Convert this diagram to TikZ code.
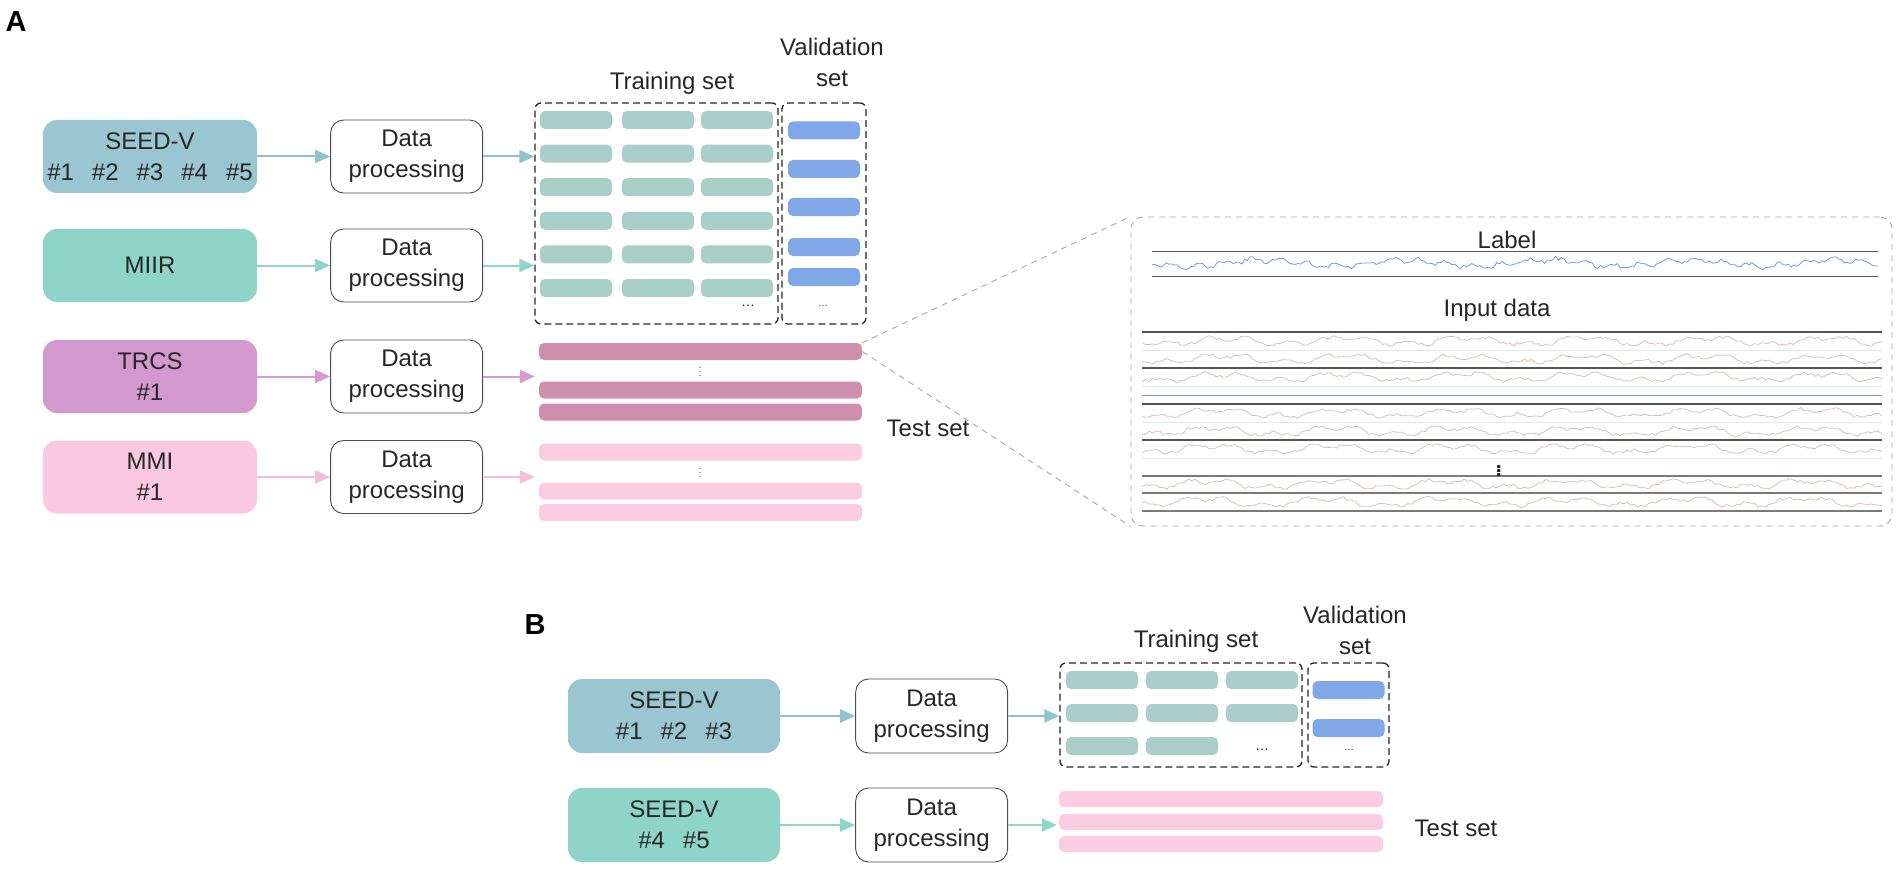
\documentclass[tikz,border=0pt]{standalone}
\usepackage{fontspec}
\setmainfont{Liberation Sans}
\usetikzlibrary{positioning,arrows.meta}

\definecolor{seedfill}{HTML}{9AC6D1}
\definecolor{miirfill}{HTML}{8ED5C8}
\definecolor{trcsfill}{HTML}{D399CF}
\definecolor{mmifill}{HTML}{FAC9E1}
\definecolor{trainfill}{HTML}{A9CFC8}
\definecolor{valfill}{HTML}{80A7E8}
\definecolor{trcsbarfill}{HTML}{CD8FAC}
\definecolor{mmibarfill}{HTML}{FBCDE3}
\definecolor{seedline}{HTML}{8FC4CF}
\definecolor{miirline}{HTML}{8FD6C8}
\definecolor{trcsline}{HTML}{D59CD1}
\definecolor{mmiline}{HTML}{F7BCD8}
\definecolor{labelblue}{HTML}{6F9BD9}
\definecolor{eegred}{HTML}{DDB5B2}
\definecolor{lightrule}{HTML}{E3E6EC}
\definecolor{darkrule}{HTML}{555555}
\definecolor{midrule}{HTML}{7A7A7A}
\definecolor{zoomgrey}{HTML}{A8A8A8}

% one pale channel of the input data
\newcommand{\eegtrace}[2]{%
  \pgfmathsetseed{#2}%
  \draw[eeg] plot[domain=0:740, samples=210]
    ({1142+\x}, {#1 + 3.2*sin(3*\x+#2) + 2.2*sin(9*\x+3*#2) + 1.6*rand});}

\begin{document}
\begin{tikzpicture}[
      x=1pt, y=-1pt,
      every node/.style = {align=center, text=black!85, font=\fontsize{24}{31}\selectfont},
      source/.style     = {rounded corners=14pt, minimum width=214pt, minimum height=73pt, inner sep=0pt},
      procbox/.style    = {draw=black!70, line width=0.9pt, fill=white, rounded corners=13pt,
                           minimum width=152pt, minimum height=73pt, inner sep=0pt},
      setbox/.style     = {draw=black!85, line width=1.3pt, dash pattern=on 7pt off 4pt,
                           rounded corners=6pt, inner sep=0pt},
      databar/.style    = {rounded corners=5pt, minimum height=18pt, inner sep=0pt},
      trainbar/.style   = {databar, fill=trainfill, minimum width=72pt},
      valbar/.style     = {databar, fill=valfill, minimum width=72pt},
      testbar/.style    = {databar, minimum height=17pt, minimum width=323pt},
      flow/.style       = {line width=2pt, -{Triangle[length=15pt, width=13pt]}},
      zoomline/.style   = {draw=zoomgrey, line width=0.9pt, dash pattern=on 6pt off 5pt},
      eeg/.style        = {draw=eegred, line width=0.7pt},
      panel/.style      = {font=\fontsize{29}{29}\selectfont\bfseries, text=black},
      dotsmark/.style   = {font=\fontsize{14}{14}\selectfont, inner sep=0pt}
    ]
    \useasboundingbox (0,0) rectangle (1902,869);

    % ---------------- panel A ----------------
    \node (panelA) [panel] at (16,22) {A};

    \node (seedA) [source, fill=seedfill] at (150,156.5) {SEED-V\\\#1\hspace{0.75em}\#2\hspace{0.75em}\#3\hspace{0.75em}\#4\hspace{0.75em}\#5};
    \node (miirA) [source, fill=miirfill] at (150,265.5) {MIIR};
    \node (trcsA) [source, fill=trcsfill] at (150,376.5) {TRCS\\\#1};
    \node (mmiA)  [source, fill=mmifill]  at (150,477)   {MMI\\\#1};

    \node (dpA1) [procbox, right=73pt of seedA] {Data\\processing};
    \node (dpA2) [procbox, right=73pt of miirA] {Data\\processing};
    \node (dpA3) [procbox, right=73pt of trcsA] {Data\\processing};
    \node (dpA4) [procbox, right=73pt of mmiA]  {Data\\processing};

    \node (trainA) [setbox, minimum width=243pt, minimum height=221pt] at (656.5,213.5) {};
    \node (valA)   [setbox, minimum width=84pt,  minimum height=221pt] at (824,213.5)   {};
    \node (trainAlabel) at (672,83) {Training set};
    \node (valAlabel)   at (832,62) {Validation\\set};

    \foreach \r in {0,...,5}
      \foreach \cx [count=\c] in {576,658,737}
        \node (trA-\c-\r) [trainbar] at (\cx,{120+33.6*\r}) {};
    \foreach \vy [count=\r] in {130.5,169,207,247,277}
      \node (vaA-\r) [valbar] at (824,\vy) {};
    \node (trAdots) [dotsmark] at (748,306) {\ldots};
    \node (vaAdots) [dotsmark, font=\fontsize{10}{10}\selectfont] at (823,306) {\ldots};

    \node (trcsA1) [testbar, fill=trcsbarfill] at (700.5,351.5) {};
    \node (trcsA2) [testbar, fill=trcsbarfill] at (700.5,390)   {};
    \node (trcsA3) [testbar, fill=trcsbarfill] at (700.5,412)   {};
    \node (trcsAdots) [dotsmark, font=\fontsize{9}{9}\selectfont] at (700,369) {$\vdots$};
    \node (mmiA1) [testbar, fill=mmibarfill] at (700.5,452)   {};
    \node (mmiA2) [testbar, fill=mmibarfill] at (700.5,491)   {};
    \node (mmiA3) [testbar, fill=mmibarfill] at (700.5,512.5) {};
    \node (mmiAdots) [dotsmark, font=\fontsize{9}{9}\selectfont] at (700,470) {$\vdots$};
    \node (testAlabel) at (928,428) {Test set};

    \draw[flow, seedline] (seedA) to (dpA1);
    \draw[flow, miirline] (miirA) to (dpA2);
    \draw[flow, trcsline] (trcsA) to (dpA3);
    \draw[flow, mmiline]  (mmiA)  to (dpA4);
    \draw[flow, seedline] (dpA1) to (dpA1 -| trainA.west);
    \draw[flow, miirline] (dpA2) to (dpA2 -| trainA.west);
    \draw[flow, trcsline, shorten >=4pt] (dpA3) to (dpA3 -| trcsA1.west);
    \draw[flow, mmiline,  shorten >=4pt] (dpA4) to (dpA4 -| mmiA1.west);

    % zoomed view of one test sample
    \node (zoombox) [draw=zoomgrey, line width=0.9pt, dash pattern=on 6pt off 5pt, rounded corners=12pt,
                     minimum width=761pt, minimum height=309pt, inner sep=0pt] at (1511.5,371.5) {};
    \draw[zoomline] (trcsA1.north east) to (zoombox.north west);
    \draw[zoomline] (trcsA1.east)       to (zoombox.south west);

    \node (labeltext) at (1507,240) {Label};
    \draw[darkrule, line width=1pt] (1152,251) -- (1878,251);
    \draw[darkrule, line width=1pt] (1152,276) -- (1878,276);
    \pgfmathsetseed{7}
    \draw[labelblue, line width=0.8pt] plot[domain=0:726, samples=260]
      ({1152+\x}, {263 + 3.2*sin(2.5*\x) + 2*sin(13*\x+40) + 1.8*rand});

    \node (inputtext) at (1497,310) {Input data};
    \foreach \ly in {350,386,422,458}
      \draw[lightrule, line width=0.9pt] (1142,\ly) -- (1882,\ly);
    \foreach \dy in {332,368,404,440}
      \draw[darkrule, line width=1.1pt] (1142,\dy) -- (1882,\dy);
    \foreach \dy in {476,493,511}
      \draw[midrule, line width=1.3pt] (1142,\dy) -- (1882,\dy);
    \draw[labelblue, line width=1pt] (1142,395) -- (1882,395);
    \foreach \sy [count=\s] in {341,359,377,413,431,449,484,502}
      \eegtrace{\sy}{\s3}
    \node (inputdots) [dotsmark, font=\fontsize{17}{17}\selectfont\bfseries] at (1499,468) {$\vdots$};

    % ---------------- panel B ----------------
    \node (panelB) [panel] at (535,625) {B};

    \node (seedB)  [source, fill=seedfill, minimum width=212pt, minimum height=74pt] at (674,716)
                   {SEED-V\\\#1\hspace{0.75em}\#2\hspace{0.75em}\#3};
    \node (seedB2) [source, fill=miirfill, minimum width=212pt, minimum height=74pt] at (674,825)
                   {SEED-V\\\#4\hspace{0.75em}\#5};
    \node (dpB1) [procbox, minimum height=74pt, right=75pt of seedB]  {Data\\processing};
    \node (dpB2) [procbox, minimum height=74pt, right=75pt of seedB2] {Data\\processing};

    \node (trainB) [setbox, minimum width=242pt, minimum height=104pt] at (1181,715)   {};
    \node (valB)   [setbox, minimum width=81pt,  minimum height=104pt] at (1348.5,715) {};
    \node (trainBlabel) at (1196,641) {Training set};
    \node (valBlabel)   at (1355,630) {Validation\\set};

    \foreach \r in {0,1}
      \foreach \cx [count=\c] in {1102,1182,1262}
        \node (trB-\c-\r) [trainbar] at (\cx,{680+33*\r}) {};
    \node (trB-1-2) [trainbar] at (1102,746) {};
    \node (trB-2-2) [trainbar] at (1182,746) {};
    \node (trBdots) [dotsmark] at (1262,750) {\ldots};
    \node (vaB-1) [valbar] at (1348.5,690) {};
    \node (vaB-2) [valbar] at (1348.5,728) {};
    \node (vaBdots) [dotsmark, font=\fontsize{10}{10}\selectfont] at (1349,750) {\ldots};

    \node (pinkB1) [testbar, fill=mmibarfill, minimum width=324pt, minimum height=16pt] at (1221,799) {};
    \node (pinkB2) [testbar, fill=mmibarfill, minimum width=324pt, minimum height=16pt] at (1221,822) {};
    \node (pinkB3) [testbar, fill=mmibarfill, minimum width=324pt, minimum height=16pt] at (1221,844) {};
    \node (testBlabel) at (1456,828) {Test set};

    \draw[flow, seedline] (seedB)  to (dpB1);
    \draw[flow, miirline] (seedB2) to (dpB2);
    \draw[flow, seedline] (dpB1) to (dpB1 -| trainB.west);
    \draw[flow, miirline, shorten >=2pt] (dpB2) to (dpB2 -| pinkB1.west);
  \end{tikzpicture}
\end{document}
